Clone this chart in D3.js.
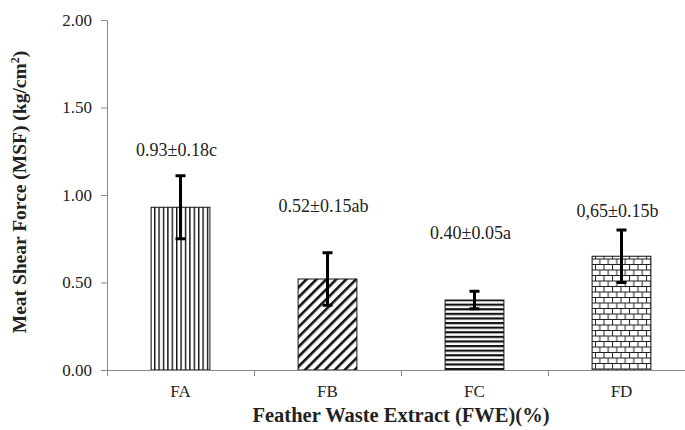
<!DOCTYPE html>
<html>
<head>
<meta charset="utf-8">
<script src="https://cdn.jsdelivr.net/npm/d3@7"></script>
<style>
  body { margin: 0; background: #fff; }
  svg { display: block; }
  text { font-family: "Liberation Serif", "Times New Roman", serif; fill: #222; }
</style>
</head>
<body>
<svg id="chart" width="685" height="430"></svg>
<script>
// data
const groups = ["FA", "FB", "FC", "FD"];
const msf = [0.93, 0.52, 0.40, 0.65];
const sd = [0.18, 0.15, 0.05, 0.15];
const notes = ["0.93±0.18c", "0.52±0.15ab", "0.40±0.05a", "0,65±0.15b"];
const yTicks = [0, 0.5, 1.0, 1.5, 2.0];

// where each note's baseline sits, in axis units
const noteAt = [1.223, 0.903, 0.749, 0.874];

const svg = d3.select("#chart");
const plotL = 107, plotR = 695, plotT = 20, plotB = 370;

const x = d3.scaleBand().domain(groups).range([plotL, plotR])
  .paddingInner(0.6).paddingOuter(0.3);
const y = d3.scaleLinear().domain([0, 2]).range([plotB, plotT]);

// patterns, one per bar
const defs = svg.append("defs");

let p = defs.append("pattern").attr("id", "pA")
  .attr("patternUnits", "userSpaceOnUse").attr("width", 4.4).attr("height", 10);
p.append("rect").attr("width", 4.4).attr("height", 10).attr("fill", "#fff");
p.append("rect").attr("x", 0).attr("width", 1.4).attr("height", 10).attr("fill", "#111");

p = defs.append("pattern").attr("id", "pB")
  .attr("patternUnits", "userSpaceOnUse").attr("width", 7).attr("height", 7)
  .attr("patternTransform", "rotate(45)");
p.append("rect").attr("width", 7).attr("height", 7).attr("fill", "#fff");
p.append("rect").attr("width", 2.6).attr("height", 7).attr("fill", "#111");

p = defs.append("pattern").attr("id", "pC")
  .attr("patternUnits", "userSpaceOnUse").attr("width", 10).attr("height", 4.6);
p.append("rect").attr("width", 10).attr("height", 4.6).attr("fill", "#fff");
p.append("rect").attr("y", 0).attr("width", 10).attr("height", 2.2).attr("fill", "#111");

p = defs.append("pattern").attr("id", "pD")
  .attr("patternUnits", "userSpaceOnUse").attr("width", 8.5).attr("height", 11);
p.append("rect").attr("width", 8.5).attr("height", 11).attr("fill", "#fff");
p.append("path")
  .attr("d", "M0,0.5H8.5M0,6H8.5M0.5,0.5V6M4.75,6V11")
  .attr("stroke", "#222").attr("stroke-width", 1).attr("fill", "none");

const fills = ["url(#pA)", "url(#pB)", "url(#pC)", "url(#pD)"];

// y axis
const yAxis = svg.append("g").attr("transform", `translate(${plotL},0)`)
  .call(d3.axisLeft(y).tickValues(yTicks).tickSize(6).tickPadding(9)
    .tickFormat(d3.format(".2f")));
yAxis.select(".domain").attr("stroke", "#8a8a8a");
yAxis.selectAll(".tick line").attr("stroke", "#8a8a8a");
yAxis.selectAll(".tick text").style("font-size", "17px").attr("fill", "#333");

// bars
const bars = svg.append("g");
bars.selectAll("rect")
  .data(groups)
  .enter()
  .append("rect")
  .attr("x", (d) => x(d))
  .attr("width", x.bandwidth())
  .attr("y", (d, i) => y(msf[i]))
  .attr("height", (d, i) => y(0) - y(msf[i]))
  .attr("fill", (d, i) => fills[i])
  .attr("stroke", "#111")
  .attr("stroke-width", 1);

// x axis, ticks between groups
const xa = svg.append("g");
xa.append("line")
  .attr("x1", plotL).attr("x2", plotR)
  .attr("y1", plotB + 0.5).attr("y2", plotB + 0.5)
  .attr("stroke", "#8a8a8a");
const edges = groups.map((d) => x(d) - (x.step() - x.bandwidth()) / 2);
edges.push(plotR);
xa.selectAll(".edge")
  .data(edges)
  .enter()
  .append("line")
  .attr("class", "edge")
  .attr("x1", (d) => Math.round(d) + 0.5).attr("x2", (d) => Math.round(d) + 0.5)
  .attr("y1", plotB).attr("y2", plotB + 6)
  .attr("stroke", "#8a8a8a");
xa.selectAll(".lbl")
  .data(groups)
  .enter()
  .append("text")
  .attr("class", "lbl")
  .attr("x", (d) => x(d) + x.bandwidth() / 2)
  .attr("y", 397)
  .attr("text-anchor", "middle")
  .style("font-size", "17px")
  .attr("fill", "#333")
  .text((d) => d);

// error bars
const err = svg.append("g").attr("stroke", "#000").attr("stroke-width", 3);
groups.forEach((g, i) => {
  const cx = x(g) + x.bandwidth() / 2;
  err.append("line").attr("x1", cx).attr("x2", cx)
    .attr("y1", y(msf[i] + sd[i])).attr("y2", y(msf[i] - sd[i]));
  err.append("line").attr("x1", cx - 5).attr("x2", cx + 5)
    .attr("y1", y(msf[i] + sd[i])).attr("y2", y(msf[i] + sd[i]));
  err.append("line").attr("x1", cx - 5).attr("x2", cx + 5)
    .attr("y1", y(msf[i] - sd[i])).attr("y2", y(msf[i] - sd[i]));
});

// value notes
svg.append("g").selectAll("text")
  .data(notes)
  .enter()
  .append("text")
  .attr("x", (d, i) => x(groups[i]) + x.bandwidth() / 2 - 4)
  .attr("y", (d, i) => y(noteAt[i]))
  .attr("text-anchor", "middle")
  .style("font-size", "18px")
  .attr("fill", "#333")
  .text((d) => d);

// axis titles
svg.append("text")
  .attr("x", 401).attr("y", 422)
  .attr("text-anchor", "middle")
  .style("font-size", "20.5px").style("font-weight", "bold")
  .text("Feather Waste Extract (FWE)(%)");

const yt = svg.append("text")
  .attr("transform", "translate(26,192) rotate(-90)")
  .attr("text-anchor", "middle")
  .style("font-size", "19.5px").style("font-weight", "bold");
yt.append("tspan").text("Meat Shear Force (MSF) (kg/cm");
yt.append("tspan").attr("dy", -7).style("font-size", "12px").text("2");
yt.append("tspan").attr("dy", 7).text(")");
</script>
</body>
</html>
